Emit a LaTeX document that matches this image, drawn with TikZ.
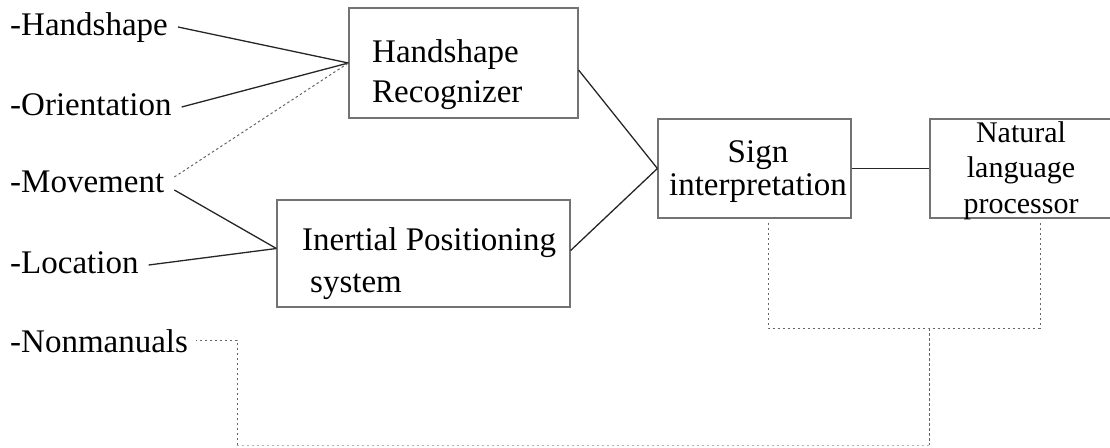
\documentclass[tikz,border=0pt]{standalone}
\usepackage{fontspec}
\setmainfont{Liberation Serif}
\begin{document}
\begin{tikzpicture}[x=1pt,y=-1pt,
  lbl/.style={anchor=base west,inner xsep=10pt,inner ysep=0pt,text height=23pt,text depth=7pt,font=\fontsize{33}{40}\selectfont},
  boxtxt/.style={inner sep=0pt,font=\fontsize{33}{40}\selectfont},
  blk/.style={draw=black!55,line width=1.2pt,inner sep=0pt},
  wire/.style={draw=black!85,line width=1.3pt},
  dotline/.style={draw=black!60,line width=1pt,dash pattern=on 2.5pt off 2.5pt},
  faint/.style={draw=black!30,line width=1pt,dash pattern=on 2.5pt off 2.5pt}]
\useasboundingbox (0,0) rectangle (1110,447);
\clip (0,0) rectangle (1110,447);
% left labels
\node[lbl] (hs) at (0,35) {-Handshape};
\node[lbl] (or) at (0,115) {-Orientation};
\node[lbl] (mv) at (0,192) {-Movement};
\node[lbl] (lo) at (0,273) {-Location};
\node[lbl] (nm) at (0,352) {-Nonmanuals};
% boxes
\node[blk,minimum width=229pt,minimum height=110pt] (hr) at (463.5,63) {};
\node[blk,minimum width=293pt,minimum height=107pt] (ips) at (423.5,253.5) {};
\node[blk,minimum width=193pt,minimum height=99pt] (si) at (754.5,168.5) {};
\node[blk,minimum width=190pt,minimum height=99pt] (nl) at (1025,168.5) {};
% box texts (base anchor = last line's baseline)
\node[boxtxt,anchor=base west,align=left,font=\fontsize{33}{40}\selectfont] (hrt) at (372,102) {Handshape\\Recognizer};
\node[boxtxt,anchor=base west,align=left,font=\fontsize{33}{42}\selectfont] (ipst) at (302,292) {Inertial Positioning\\\hspace*{8pt}system};
\node[boxtxt,anchor=base,align=center,font=\fontsize{33}{33}\selectfont] (sit) at (758,195) {Sign\\interpretation};
\node[boxtxt,anchor=base,align=center,font=\fontsize{30}{35.5}\selectfont] (nlt) at (1021,213) {Natural\\language\\processor};
% connectors
\draw[wire] (hs.east) -- (hr.west);
\draw[wire] (or.east) -- (hr.west);
\draw[dotline] ([yshift=7pt]mv.east) -- (hr.west);
\draw[wire] ([yshift=-6pt]mv.east) -- ([yshift=5pt]ips.west);
\draw[wire] (lo.east) -- ([yshift=5pt]ips.west);
\draw[wire] ([yshift=-7pt]hr.east) -- (si.west);
\draw[wire] ([yshift=3pt]ips.east) -- (si.west);
\draw[wire] (si.east) -- (nl.west);
% dotted feedback
\coordinate (j) at (929,328);
\coordinate (c1) at (237,445);
\draw[dotline] ([xshift=13.5pt,yshift=-4pt]si.south) |- (j) -| ([xshift=15pt,yshift=-4pt]nl.south);
\draw[dotline] (j) -- (929,445);
\draw[faint] (929,445) -- (c1);
\draw[dotline] (c1) |- ([xshift=-2pt,yshift=4pt]nm.east);
\end{tikzpicture}
\end{document}
